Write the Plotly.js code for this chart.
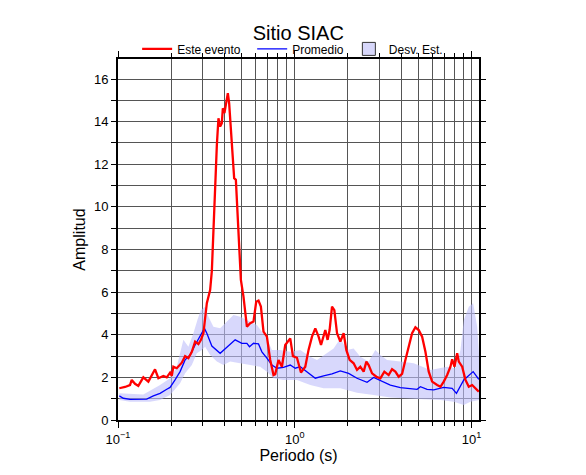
<!DOCTYPE html>
<html>
<head>
<meta charset="utf-8">
<script src="https://cdn.plot.ly/plotly-3.0.1.min.js"></script>
<style>html,body{margin:0;padding:0;background:#fff;}#chart{width:586px;height:475px;}</style>
</head>
<body>
<div id="chart"></div>
<script>
// Este evento (red)
const eventPeriod = [0.1017,0.1096,0.1169,0.1196,0.1248,0.1303,0.1391,0.1485,0.1620,0.1692,0.1806,0.1888,0.1971,0.2015,0.2057,0.2150,0.2296,0.2397,0.2502,0.2616,0.2731,0.2851,0.2942,0.3043,0.3181,0.3321,0.3396,0.3467,0.3592,0.3625,0.3701,0.3784,0.3868,0.3919,0.4002,0.4054,0.4129,0.4183,0.4255,0.4350,0.4466,0.4542,0.4644,0.4804,0.4957,0.5128,0.5361,0.5597,0.5843,0.6052,0.6235,0.6434,0.6656,0.6958,0.7264,0.7584,0.7753,0.8094,0.8462,0.8835,0.9430,0.9768,1.0292,1.0842,1.147,1.197,1.252,1.307,1.364,1.408,1.456,1.489,1.534,1.575,1.625,1.675,1.735,1.811,1.891,1.958,2.044,2.154,2.251,2.350,2.454,2.542,2.619,2.738,2.896,3.051,3.214,3.399,3.553,3.709,3.873,4.049,4.227,4.413,4.613,4.816,5.028,5.256,5.488,5.730,5.989,6.393,6.674,6.968,7.283,7.603,7.775,8.012,8.299,8.474,8.857,9.247,9.654,10.09,10.54,11.0];
const eventAmp = [1.49,1.55,1.64,1.88,1.70,1.60,2.00,1.80,2.38,1.96,2.07,2.00,2.22,2.07,2.50,2.43,2.69,3.00,2.90,3.20,3.68,3.56,3.75,4.07,5.48,6.10,7.00,9.07,12.83,12.90,14.16,13.77,13.93,14.63,14.40,14.70,15.18,15.34,14.87,13.77,12.20,11.35,11.27,9.07,6.57,5.79,4.38,4.54,4.62,5.55,5.60,5.32,4.15,3.91,2.82,2.11,2.15,2.82,2.50,3.52,3.83,3.00,2.92,2.23,2.50,3.29,3.91,4.30,3.91,3.52,3.91,4.22,3.76,4.22,5.32,5.16,4.07,3.68,4.07,3.29,2.82,2.66,2.35,2.50,2.27,2.74,2.58,2.19,2.03,1.96,2.27,2.11,2.38,2.27,2.03,2.16,2.82,3.44,4.07,4.35,4.22,3.91,3.20,2.27,1.80,1.64,1.56,1.80,2.11,2.50,2.85,2.50,3.13,2.74,2.50,1.88,1.56,1.64,1.49,1.33];

// Promedio (blue)
const meanPeriod = [0.1017,0.1072,0.1169,0.1332,0.1454,0.1585,0.1730,0.1888,0.1971,0.2103,0.2245,0.2397,0.2558,0.2731,0.2915,0.3083,0.3181,0.3396,0.3784,0.4216,0.4602,0.5022,0.5361,0.5546,0.5843,0.6235,0.6519,0.6958,0.7427,0.7928,0.8640,0.9430,1.0065,1.0745,1.173,1.307,1.456,1.625,1.811,2.018,2.251,2.565,2.796,3.051,3.475,3.960,4.512,4.924,5.140,5.610,6.116,6.968,7.775,8.222,9.045,10.22,11.0];
const meanAmp = [1.13,1.02,0.97,0.97,0.98,1.13,1.25,1.44,1.53,1.88,2.27,2.82,3.05,3.52,3.91,4.30,4.07,3.47,3.13,3.47,3.76,3.60,3.60,3.44,3.60,3.57,3.20,2.90,2.58,2.43,2.47,2.58,2.43,2.50,2.27,1.96,2.07,2.16,2.30,2.19,1.96,1.77,2.00,1.85,1.64,1.52,1.49,1.44,1.56,1.44,1.41,1.53,1.49,1.25,1.88,2.27,1.91];

// Desv. Est. band
const upperPeriod = [0.1017,0.1391,0.1730,0.1971,0.2150,0.2344,0.2502,0.2671,0.2814,0.2942,0.3111,0.3249,0.3467,0.3784,0.4216,0.4501,0.4913,0.5361,0.6107,0.6958,0.7427,0.8275,0.9430,1.0745,1.224,1.336,1.456,1.659,1.811,1.976,2.154,2.350,2.619,2.858,3.051,3.329,3.960,4.710,5.858,7.283,8.116,8.664,9.045,9.654,10.22,10.77,11.03];
const upperAmp = [1.25,1.20,1.64,1.96,2.50,3.76,3.44,4.07,4.69,5.16,5.32,4.85,4.38,4.30,4.69,4.93,4.85,4.69,4.46,3.83,3.29,3.29,3.20,3.29,2.97,2.82,3.05,3.36,3.83,3.29,3.36,2.97,2.74,3.29,3.05,2.82,2.74,2.66,2.35,2.50,2.43,3.29,4.69,5.32,5.48,4.38,3.13];
const lowerPeriod = [0.1017,0.1169,0.1518,0.1730,0.1971,0.2245,0.2397,0.2616,0.2792,0.2981,0.3111,0.3321,0.3625,0.3950,0.4311,0.4913,0.5597,0.6375,0.6958,0.7584,0.8640,1.0292,1.224,1.456,1.811,2.251,2.796,3.475,4.322,5.367,6.674,7.938,9.045,9.869,11.03];
const lowerAmp = [0.94,0.86,0.86,0.94,1.17,1.72,2.19,2.58,3.13,3.29,3.44,3.05,2.74,2.58,2.74,2.66,2.58,2.50,2.27,1.96,1.88,1.88,1.64,1.49,1.49,1.28,1.17,1.06,1.02,0.97,0.94,0.86,0.70,0.86,0.94];

const seriesNames = ['Este evento', 'Promedio', 'Desv. Est.'];
const xTickVals = [0.1, 1, 10];
const xTickText = ['10<sup>\u22121</sup>', '10<sup>0</sup>', '10<sup>1</sup>'];

const bandFill = 'rgba(190,190,250,0.6)';
const font = 'Liberation Sans, Arial, Helvetica, sans-serif';
const pad = n => '\u00a0'.repeat(n);

const traces = [
  {
    x: upperPeriod.concat(lowerPeriod.slice().reverse()),
    y: upperAmp.concat(lowerAmp.slice().reverse()),
    type: 'scatter', mode: 'lines', fill: 'toself', fillcolor: bandFill,
    line: {width: 0, color: 'rgba(0,0,0,0)'}, showlegend: false, hoverinfo: 'skip'
  },
  {
    x: [null], y: [null], type: 'scatter', mode: 'markers',
    marker: {symbol: 'square', size: 13, color: 'rgb(215,215,250)', line: {width: 1, color: '#333'}},
    name: seriesNames[2], legendrank: 3
  },
  {
    x: meanPeriod, y: meanAmp, type: 'scatter', mode: 'lines',
    line: {color: '#0000ff', width: 1.3}, name: seriesNames[1], legendrank: 2
  },
  {
    x: eventPeriod, y: eventAmp, type: 'scatter', mode: 'lines',
    line: {color: '#ff0000', width: 2.3}, name: seriesNames[0] + pad(2), legendrank: 1
  }
];

const layout = {
  width: 586, height: 475,
  margin: {l: 118, r: 107, t: 59, b: 55},
  paper_bgcolor: '#fff', plot_bgcolor: '#fff',
  font: {family: font, color: '#000', size: 12},
  title: {text: 'Sitio SIAC', font: {size: 20, family: font}, x: 0.509, xanchor: 'center', y: 0.931, yanchor: 'middle'},
  showlegend: true,
  legend: {orientation: 'h', x: 0.053, xanchor: 'left', y: 1.028, yanchor: 'middle',
           font: {size: 12, family: font}, bgcolor: 'rgba(0,0,0,0)', traceorder: 'normal',
           itemwidth: 30},
  xaxis: {
    type: 'log', range: [-1, 1.0425],
    tickvals: xTickVals, ticktext: xTickText,
    ticks: 'outside', ticklen: 6, tickwidth: 1, tickcolor: '#000',
    showline: true, linewidth: 2, linecolor: '#000', mirror: 'ticks',
    showgrid: true, gridcolor: '#555', gridwidth: 1,
    minor: {dtick: 'D1', ticks: 'outside', ticklen: 4, tickcolor: '#000', showgrid: true, gridcolor: '#555', gridwidth: 1},
    tickfont: {size: 13}, zeroline: false,
    title: {text: 'Periodo (s)', font: {size: 16}, standoff: 3}
  },
  yaxis: {
    range: [0, 16.94], dtick: 2, tick0: 0,
    ticks: 'outside', ticklen: 5, tickwidth: 1, tickcolor: '#000',
    showline: true, linewidth: 2, linecolor: '#000', mirror: 'ticks',
    showgrid: true, gridcolor: '#555', gridwidth: 1,
    minor: {dtick: 1, ticks: 'outside', ticklen: 5, tickcolor: '#000', showgrid: true, gridcolor: '#555', gridwidth: 1},
    tickfont: {size: 13}, zeroline: false,
    title: {text: 'Amplitud', font: {size: 16}, standoff: 4}
  }
};

Plotly.newPlot('chart', traces, layout, {displayModeBar: false, staticPlot: true});
</script>
</body>
</html>
